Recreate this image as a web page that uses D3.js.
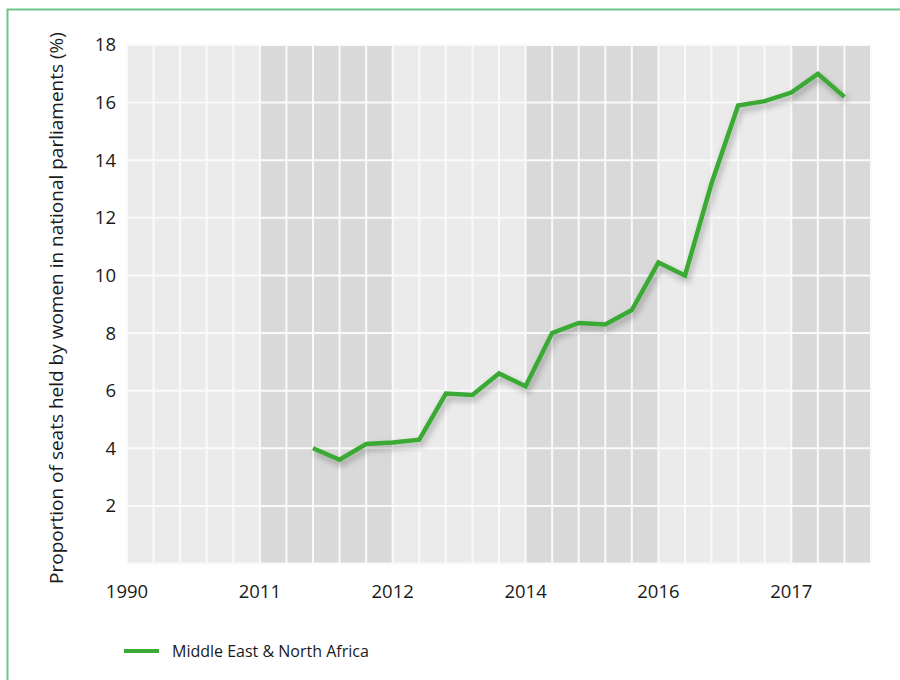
<!DOCTYPE html>
<html><head><meta charset="utf-8">
<script src="https://cdn.jsdelivr.net/npm/d3@7/dist/d3.min.js"></script>
<style>body{margin:0;background:#fff}svg{display:block}text{font-family:"Open Sans","Noto Sans",sans-serif;fill:#1a1a1a}</style>
</head><body>
<svg id="c" width="900" height="680"></svg>
<script>
// Tick labels placed at every group boundary
const tickLabels = ["1990", "2011", "2012", "2014", "2016", "2017"];
// Number of sub-columns in each shaded group
const groupSizes = [5, 5, 5, 5, 5, 3];
const groupShades = ["#ebebeb", "#d9d9d9", "#ebebeb", "#d9d9d9", "#ebebeb", "#d9d9d9"];
// Series: starts at sub-column 7
const seriesStart = 7;
const seriesValues = [4.0, 3.6, 4.15, 4.2, 4.3, 5.9, 5.85, 6.6, 6.15, 8.0, 8.35, 8.3, 8.8, 10.45, 10.0, 13.2, 15.9, 16.05, 16.35, 17.0, 16.2];
const seriesName = "Middle East & North Africa";
const yTicks = [2, 4, 6, 8, 10, 12, 14, 16, 18];

const svg = d3.select("#c");
const nCols = d3.sum(groupSizes);
const x = d3.scaleLinear().domain([0, nCols]).range([127, 871]);
const y = d3.scaleLinear().domain([0, 18]).range([563.5, 45]);

// frame
svg.append("path").attr("d", "M7.5,680 V9.5 H900").attr("fill", "none").attr("stroke", "#6cc390").attr("stroke-width", 2);

const defs = svg.append("defs");
const f = defs.append("filter").attr("id", "sh").attr("x", "-10%").attr("y", "-10%").attr("width", "130%").attr("height", "130%");
f.append("feDropShadow").attr("dx", 2).attr("dy", 4).attr("stdDeviation", 3).attr("flood-color", "#000").attr("flood-opacity", 0.3);

// shaded columns
let start = 0;
const groups = groupSizes.map((n, i) => { const g = {start, n, shade: groupShades[i], label: tickLabels[i]}; start += n; return g; });
svg.append("g").selectAll("rect").data(groups).join("rect")
  .attr("x", d => x(d.start)).attr("width", d => x(d.start + d.n) - x(d.start))
  .attr("y", y(18)).attr("height", y(0) - y(18)).attr("fill", d => d.shade);

// grid
const grid = svg.append("g").attr("stroke", "#fafafa").attr("stroke-width", 2);
grid.selectAll("line.v").data(d3.range(0, nCols + 1)).join("line").attr("class", "v")
  .attr("x1", d => x(d)).attr("x2", d => x(d)).attr("y1", y(18)).attr("y2", y(0));
grid.selectAll("line.h").data([0].concat(yTicks)).join("line").attr("class", "h")
  .attr("x1", x(0)).attr("x2", x(nCols)).attr("y1", d => y(d)).attr("y2", d => y(d));

// y axis labels
svg.append("g").selectAll("text").data(yTicks).join("text")
  .attr("x", 116).attr("y", d => y(d)).attr("dy", "0.35em").attr("text-anchor", "end")
  .attr("font-size", 18.5).text(d => d);

// x axis labels
svg.append("g").selectAll("text").data(groups).join("text")
  .attr("x", d => x(d.start)).attr("y", 592).attr("dy", "0.35em").attr("text-anchor", "middle")
  .attr("font-size", 18.5).text(d => d.label);

// y title
svg.append("text").attr("transform", "translate(63,308) rotate(-90)").attr("text-anchor", "middle")
  .attr("font-size", 19).text("Proportion of seats held by women in national parliaments (%)");

// line
const line = d3.line().x((d, i) => x(seriesStart + i)).y(d => y(d));
svg.append("path").datum(seriesValues).attr("d", line).attr("fill", "none")
  .attr("stroke", "#3aaa35").attr("stroke-width", 4.5).attr("stroke-linejoin", "miter").attr("filter", "url(#sh)");

// legend
svg.append("line").attr("x1", 124).attr("x2", 159).attr("y1", 651).attr("y2", 651).attr("stroke", "#3aaa35").attr("stroke-width", 4);
svg.append("text").attr("x", 172).attr("y", 651).attr("dy", "0.35em").attr("font-size", 16).text(seriesName);
</script>
</body></html>
